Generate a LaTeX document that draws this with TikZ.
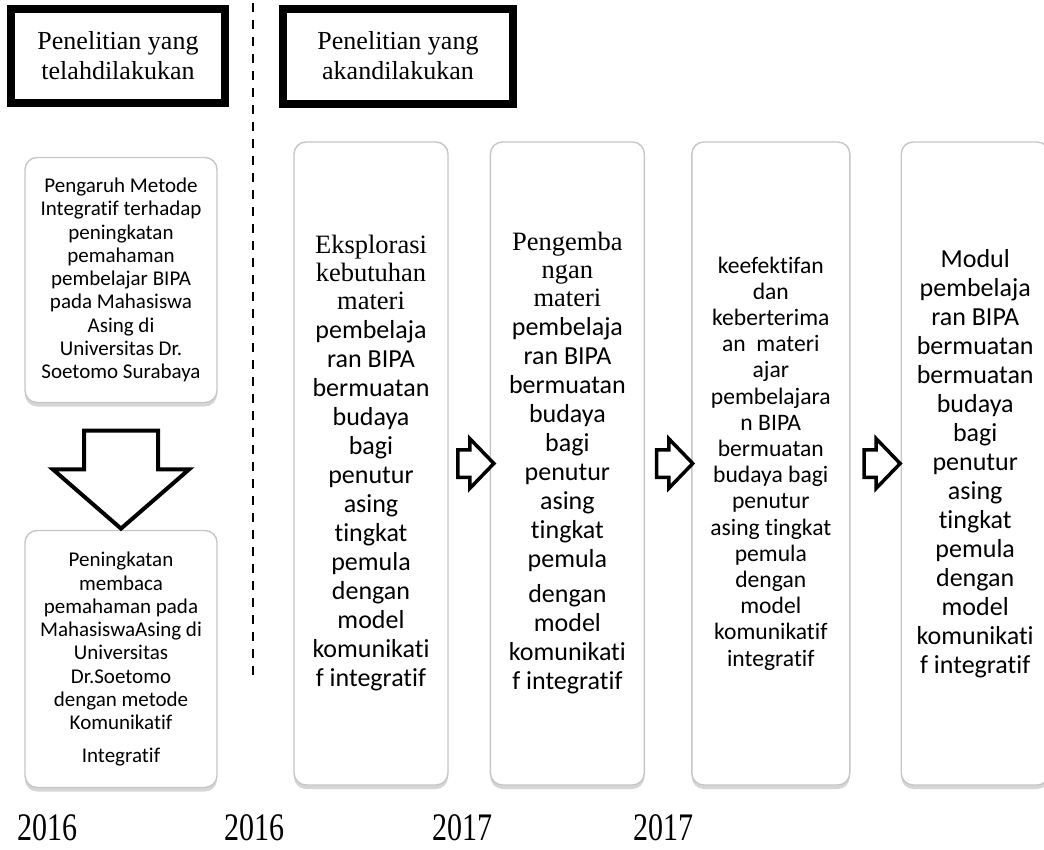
\documentclass[tikz,border=0pt]{standalone}
\usepackage{fontspec}
\setmainfont{Liberation Serif}
\newfontfamily\calib[Ligatures=NoCommon]{Carlito}
\usetikzlibrary{positioning,calc,shapes.arrows,shadows}
\newcommand\yrs[1]{\scalebox{1}[1.3]{#1}}
\newcommand\serifline{\rmfamily\fontsize{26.5}{28}\selectfont}
\newcommand\calibline{\calib\fontsize{26}{29}\selectfont}

\begin{document}
\begin{tikzpicture}[x=1pt, y=-1pt,
    hdr/.style={rectangle, draw=black, line width=8pt, align=center,
                font=\fontsize{26}{30}\selectfont},
    pane/.style={rectangle, draw=gray!45, line width=1.4pt, rounded corners=12pt,
                 fill=white, align=flush center, inner sep=2pt,
                 drop shadow={shadow xshift=0pt, shadow yshift=-4pt,
                              opacity=.4, fill=gray!80}},
    side/.style={pane, minimum width=192pt, text width=188pt,
                 font=\calib\fontsize{21}{23.3}\selectfont},
    col/.style={pane, minimum width=152pt, minimum height=643pt,
                text width=150pt, font=\calibline},
    blk/.style={single arrow, draw=black, line width=3.5pt, fill=white,
                inner xsep=1pt, inner ysep=12pt, minimum height=36pt,
                minimum width=46pt, single arrow head extend=11pt,
                single arrow tip angle=92},
    yr/.style={font=\fontsize{30}{30}\selectfont},
    sepline/.style={line width=2.6pt, dash pattern=on 9pt off 8pt},
]
\useasboundingbox (0,0) rectangle (1044,849);

% headings
\node[hdr, minimum width=214pt, minimum height=94pt] (done) at (118,56)
  {Penelitian yang\\telahdilakukan};
\node[hdr, minimum width=230pt, minimum height=95pt] (plan) at (398,56)
  {Penelitian yang\\akandilakukan};

% divider
\coordinate (septop) at (253,3);
\coordinate (sepbot) at (253,680);
\draw[sepline] (septop) -- (sepbot);

% research already done
\node[side, minimum height=245pt] (pengaruh) at (121,280)
  {Pengaruh Metode\\Integratif terhadap\\peningkatan\\pemahaman\\pembelajar BIPA\\
   pada Mahasiswa\\Asing di\\Universitas Dr.\\Soetomo Surabaya};
\node[side, minimum height=257pt] (peningkatan) at (121,659)
  {Peningkatan\\membaca\\pemahaman pada\\MahasiswaAsing di\\Universitas\\
   Dr.Soetomo\\dengan metode\\Komunikatif\\[9pt]Integratif};
\node[blk, minimum height=98pt, minimum width=134pt, line width=4pt,
      inner xsep=35pt, inner ysep=1pt,
      single arrow head extend=31pt, single arrow tip angle=98,
      shape border rotate=270, yshift=3pt] (turun)
  at ($(pengaruh.south)!.5!(peningkatan.north)$) {};

% research to be done
\node[col] (eksplorasi) at (371,463.5)
  {\serifline Eksplorasi\\kebutuhan\\materi\\\calibline pembelaja\\ran BIPA\\
   bermuatan\\budaya\\bagi\\penutur\\asing\\tingkat\\pemula\\dengan\\model\\
   komunikati\\f integratif};
\node[col, right=41pt of eksplorasi] (pengembangan)
  {\serifline Pengemba\\ngan\\materi\\\calibline pembelaja\\ran BIPA\\bermuatan\\
   budaya\\bagi\\penutur\\asing\\tingkat\\pemula\\[6pt]dengan\\model\\
   komunikati\\f integratif};
\node[col, right=46pt of pengembangan, minimum width=156pt, text width=154pt,
      font=\calib\fontsize{23.6}{26.2}\selectfont] (keefektifan)
  {keefektifan\\dan\\keberterima\\an~~materi\\ajar\\pembelajara\\n BIPA\\
   bermuatan\\budaya bagi\\penutur\\asing tingkat\\pemula\\dengan\\model\\
   komunikatif\\integratif};
\node[col, right=50pt of keefektifan, minimum width=146pt, text width=144pt]
  (modul)
  {Modul\\pembelaja\\ran BIPA\\bermuatan\\bermuatan\\budaya\\bagi\\penutur\\
   asing\\tingkat\\pemula\\dengan\\model\\komunikati\\f integratif};

\node[blk] (lanjut1) at ($(eksplorasi.east)!.5!(pengembangan.west)$) {};
\node[blk] (lanjut2) at ($(pengembangan.east)!.5!(keefektifan.west)$) {};
\node[blk] (lanjut3) at ($(keefektifan.east)!.5!(modul.west)$) {};

% years
\node[yr] (th1) at (47,828) {\yrs{2016}};
\node[yr] (th2) at (254,828) {\yrs{2016}};
\node[yr] (th3) at (462,828) {\yrs{2017}};
\node[yr] (th4) at (663,828) {\yrs{2017}};

\end{tikzpicture}
\end{document}
